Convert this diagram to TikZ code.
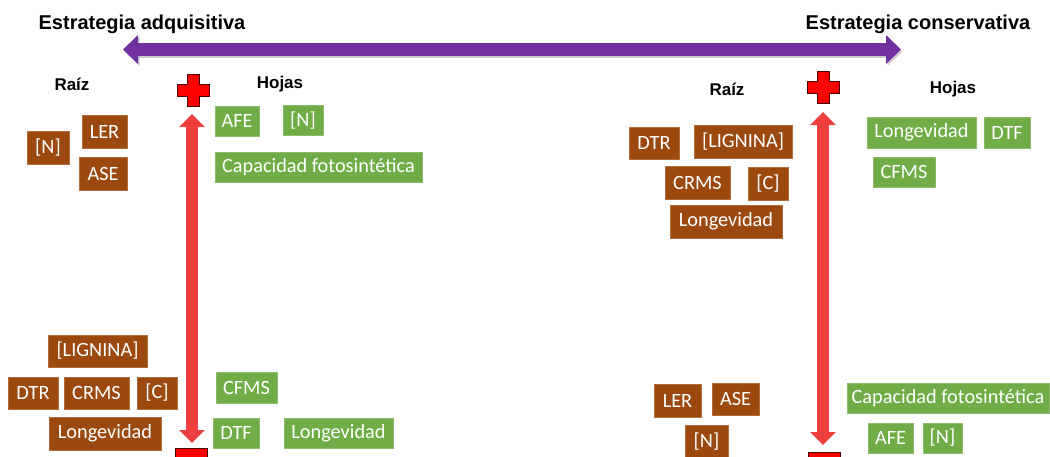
\documentclass[tikz,border=0pt]{standalone}
\usepackage{fontspec}
\setmainfont{Carlito}
\newfontfamily\arialfont{Liberation Sans}
\usetikzlibrary{arrows.meta}
\definecolor{brownbox}{RGB}{156,73,16}
\definecolor{greenbox}{RGB}{112,173,71}
\definecolor{purplearrow}{RGB}{112,48,160}
\definecolor{redarrow}{RGB}{238,62,62}
\tikzset{
  tbox/.style={inner sep=0pt, text=white, font=\fontsize{20.3}{23}\selectfont, line width=0.8pt},
  brn/.style={tbox, fill=brownbox, draw=brownbox!80!white},
  grn/.style={tbox, fill=greenbox, draw=greenbox!80!white},
  header/.style={font=\arialfont\bfseries\fontsize{20}{24}\selectfont, anchor=base, inner sep=0pt},
  part/.style={font=\arialfont\bfseries\fontsize{17}{20}\selectfont, inner sep=0pt},
  purplebar/.style={purplearrow, line width=13pt, {Triangle[width=28pt,length=15pt]}-{Triangle[width=28pt,length=15pt]}},
  redbar/.style={redarrow, line width=12pt, {Triangle[width=25pt,length=13pt]}-{Triangle[width=25pt,length=13pt]}},
  signshape/.style={fill=red, draw=black!70!red, line width=0.8pt},
}
\newcommand{\pluss}[1]{%
  \draw[signshape] ([shift={(-6,-16)}]#1) -- ([shift={(6,-16)}]#1) -- ([shift={(6,-6)}]#1) -- ([shift={(16,-6)}]#1)
   -- ([shift={(16,6)}]#1) -- ([shift={(6,6)}]#1) -- ([shift={(6,16)}]#1) -- ([shift={(-6,16)}]#1)
   -- ([shift={(-6,6)}]#1) -- ([shift={(-16,6)}]#1) -- ([shift={(-16,-6)}]#1) -- ([shift={(-6,-6)}]#1) -- cycle;}
\newcommand{\minuss}[1]{%
  \draw[signshape] ([shift={(-16,0)}]#1) rectangle ([shift={(16,12)}]#1);}
\begin{document}
\begin{tikzpicture}[x=1pt,y=-1pt]
\useasboundingbox (0,0) rectangle (1050,456);
\clip (0,0) rectangle (1050,456);
% headers
\node[header] (hadq) at (142,29) {Estrategia adquisitiva};
\node[header] (hcons) at (918,29) {Estrategia conservativa};
% purple double arrow
\coordinate (pleft) at (123,49.5);
\coordinate (pright) at (901,49.5);
\draw[gray!40, line width=13pt, {Triangle[width=28pt,length=15pt]}-{Triangle[width=28pt,length=15pt]}] ([shift={(1.5,2)}]pleft) -- ([shift={(1.5,2)}]pright);
\draw[purplebar] (pleft) -- (pright);
% part labels
\node[part] (lraiz) at (72,84) {Raíz};
\node[part] (lhojas) at (280,84) {Hojas};
\node[part] (rraiz) at (727,89) {Raíz};
\node[part] (rhojas) at (953,89) {Hojas};
% plus / minus signs and red arrows
\coordinate (lplus) at (193,90);
\coordinate (rplus) at (823,87);
\coordinate (lminus) at (191,448);
\coordinate (rminus) at (824,452);
\pluss{lplus}
\pluss{rplus}
\minuss{lminus}
\minuss{rminus}
\coordinate (ltop) at (192,114);
\coordinate (lbot) at (192,443);
\coordinate (rtop) at (823,112);
\coordinate (rbot) at (823,445);
\draw[redbar] (ltop) -- (lbot);
\draw[redbar] (rtop) -- (rbot);
% left top
\node[brn, minimum width=42pt, minimum height=33pt] (lN) at (48,147.5) {[N]};
\node[brn, minimum width=45pt, minimum height=33pt] (lLER) at (104.5,131.5) {LER};
\node[brn, minimum width=48pt, minimum height=33pt] (lASE) at (103,173.5) {ASE};
\node[grn, minimum width=44pt, minimum height=30pt] (lAFE) at (237,121) {AFE};
\node[grn, minimum width=40pt, minimum height=30pt] (lNh) at (303,120.5) {[N]};
\node[grn, minimum width=207pt, minimum height=30pt] (lCap) at (318.5,167) {Capacidad fotosintética};
% left bottom
\node[brn, minimum width=99pt, minimum height=32pt] (lLig) at (97.5,351) {[LIGNINA]};
\node[brn, minimum width=50pt, minimum height=32pt] (lDTR) at (33,393) {DTR};
\node[brn, minimum width=65pt, minimum height=32pt] (lCRMS) at (96.5,393) {CRMS};
\node[brn, minimum width=40pt, minimum height=32pt] (lC) at (157,393) {[C]};
\node[brn, minimum width=112pt, minimum height=33pt] (lLong) at (105,433.5) {Longevidad};
\node[grn, minimum width=61pt, minimum height=31pt] (lCFMS) at (246.5,387.5) {CFMS};
\node[grn, minimum width=46pt, minimum height=30pt] (lDTF) at (236,433) {DTF};
\node[grn, minimum width=109pt, minimum height=30pt] (lLongh) at (338.5,433) {Longevidad};
% right top
\node[brn, minimum width=50pt, minimum height=32pt] (rDTR) at (654,143) {DTR};
\node[brn, minimum width=98pt, minimum height=33pt] (rLig) at (743,141.5) {[LIGNINA]};
\node[brn, minimum width=65pt, minimum height=33pt] (rCRMS) at (697.5,182.5) {CRMS};
\node[brn, minimum width=40pt, minimum height=33pt] (rC) at (768,183.5) {[C]};
\node[brn, minimum width=112pt, minimum height=33pt] (rLong) at (726,221.5) {Longevidad};
\node[grn, minimum width=109pt, minimum height=31pt] (rLongh) at (921.5,132.5) {Longevidad};
\node[grn, minimum width=46pt, minimum height=31pt] (rDTF) at (1007,132.5) {DTF};
\node[grn, minimum width=62pt, minimum height=30pt] (rCFMS) at (904,172) {CFMS};
% right bottom
\node[brn, minimum width=47pt, minimum height=33pt] (rLER) at (677.5,400.5) {LER};
\node[brn, minimum width=47pt, minimum height=32pt] (rASE) at (735.5,399) {ASE};
\node[brn, minimum width=43pt, minimum height=33pt] (rN) at (706.5,441.5) {[N]};
\node[grn, minimum width=202pt, minimum height=30pt] (rCap) at (948,398) {Capacidad fotosintética};
\node[grn, minimum width=45pt, minimum height=30pt] (rAFE) at (890.5,438) {AFE};
\node[grn, minimum width=39pt, minimum height=30pt] (rNh) at (942.5,438) {[N]};
\end{tikzpicture}
\end{document}
